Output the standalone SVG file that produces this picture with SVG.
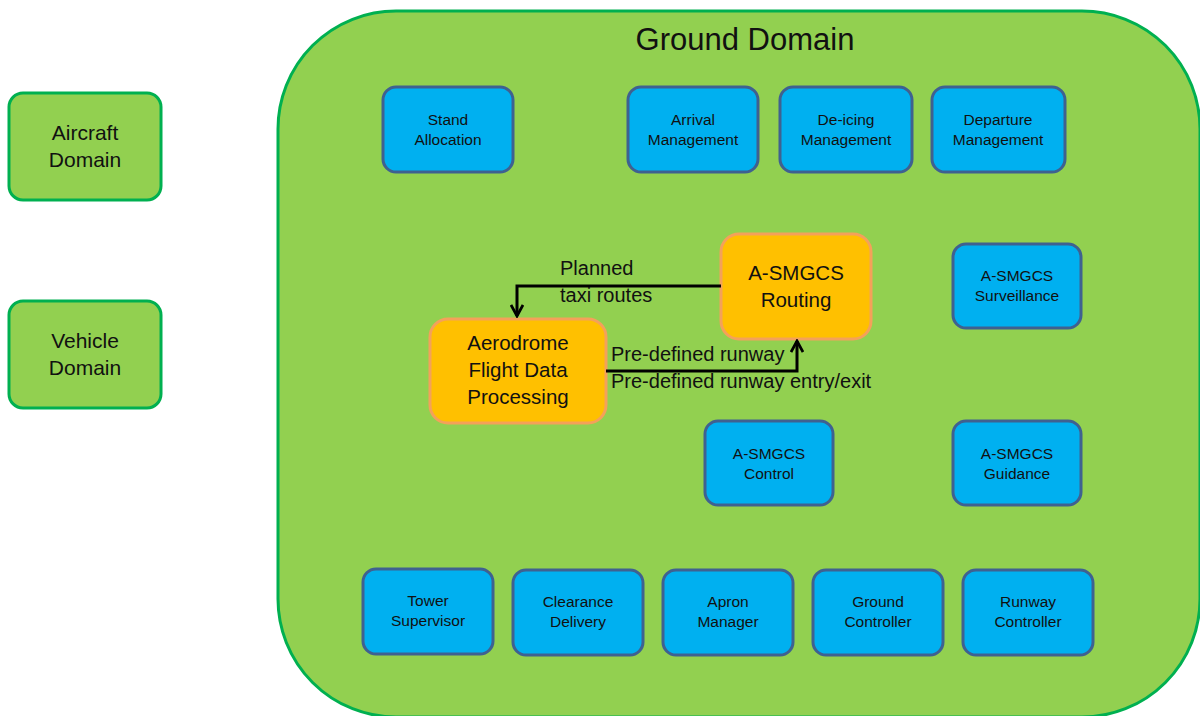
<svg xmlns="http://www.w3.org/2000/svg" width="1200" height="716" viewBox="0 0 1200 716">
<style>
.dom{fill:#92D050;stroke:#00B050;stroke-width:3}
.blue{fill:#00B0F0;stroke:#3F6190;stroke-width:3}
.orange{fill:#FFC000;stroke:#F4A15A;stroke-width:3}
text{font-family:"Liberation Sans",Arial,sans-serif;fill:#111;text-anchor:middle}
.b{font-size:15.5px}
.o{font-size:20.5px}
.d{font-size:21px}
.lbl{font-size:20px;text-anchor:start}
.conn{fill:none;stroke:#000;stroke-width:3}
</style>
<defs>
<marker id="ah" viewBox="0 0 14 14" refX="12" refY="7" markerWidth="14" markerHeight="14" markerUnits="userSpaceOnUse" orient="auto">
<path d="M1,1 L12,7 L1,13" fill="none" stroke="#000" stroke-width="2.8"/>
</marker>
</defs>
<rect width="1200" height="716" fill="#fff"/>
<g id="ground-domain">
<rect class="dom" x="278" y="11" width="922" height="706" rx="118" ry="118"/>
<text x="745" y="50" style="font-size:31px">Ground Domain</text>
</g>
<g id="aircraft-domain">
<rect class="dom" x="9" y="93" width="152" height="107" rx="14"/>
<text class="d" x="85" y="140">Aircraft</text>
<text class="d" x="85" y="167">Domain</text>
</g>
<g id="vehicle-domain">
<rect class="dom" x="9" y="301" width="152" height="107" rx="14"/>
<text class="d" x="85" y="348">Vehicle</text>
<text class="d" x="85" y="375">Domain</text>
</g>
<g id="stand-allocation">
<rect class="blue" x="383" y="87" width="130" height="85" rx="13"/>
<text class="b" x="448" y="125">Stand</text>
<text class="b" x="448" y="145">Allocation</text>
</g>
<g id="arrival-management">
<rect class="blue" x="628" y="87" width="130" height="85" rx="13"/>
<text class="b" x="693" y="125">Arrival</text>
<text class="b" x="693" y="145">Management</text>
</g>
<g id="deicing-management">
<rect class="blue" x="780" y="87" width="132" height="85" rx="13"/>
<text class="b" x="846" y="125">De-icing</text>
<text class="b" x="846" y="145">Management</text>
</g>
<g id="departure-management">
<rect class="blue" x="932" y="87" width="133" height="85" rx="13"/>
<text class="b" x="998" y="125">Departure</text>
<text class="b" x="998" y="145">Management</text>
</g>
<g id="asmgcs-surveillance">
<rect class="blue" x="953" y="244" width="128" height="84" rx="13"/>
<text class="b" x="1017" y="281">A-SMGCS</text>
<text class="b" x="1017" y="301">Surveillance</text>
</g>
<g id="asmgcs-control">
<rect class="blue" x="705" y="421" width="128" height="84" rx="13"/>
<text class="b" x="769" y="459">A-SMGCS</text>
<text class="b" x="769" y="479">Control</text>
</g>
<g id="asmgcs-guidance">
<rect class="blue" x="953" y="421" width="128" height="84" rx="13"/>
<text class="b" x="1017" y="459">A-SMGCS</text>
<text class="b" x="1017" y="479">Guidance</text>
</g>
<g id="tower-supervisor">
<rect class="blue" x="363" y="569" width="130" height="85" rx="13"/>
<text class="b" x="428" y="606">Tower</text>
<text class="b" x="428" y="626">Supervisor</text>
</g>
<g id="clearance-delivery">
<rect class="blue" x="513" y="570" width="130" height="85" rx="13"/>
<text class="b" x="578" y="607">Clearance</text>
<text class="b" x="578" y="627">Delivery</text>
</g>
<g id="apron-manager">
<rect class="blue" x="663" y="570" width="130" height="85" rx="13"/>
<text class="b" x="728" y="607">Apron</text>
<text class="b" x="728" y="627">Manager</text>
</g>
<g id="ground-controller">
<rect class="blue" x="813" y="570" width="130" height="85" rx="13"/>
<text class="b" x="878" y="607">Ground</text>
<text class="b" x="878" y="627">Controller</text>
</g>
<g id="runway-controller">
<rect class="blue" x="963" y="570" width="130" height="85" rx="13"/>
<text class="b" x="1028" y="607">Runway</text>
<text class="b" x="1028" y="627">Controller</text>
</g>
<g id="asmgcs-routing">
<rect class="orange" x="721" y="234" width="150" height="105" rx="18"/>
<text class="o" x="796" y="280">A-SMGCS</text>
<text class="o" x="796" y="307">Routing</text>
</g>
<g id="aerodrome-fdp">
<rect class="orange" x="430" y="319" width="176" height="104" rx="18"/>
<text class="o" x="518" y="350">Aerodrome</text>
<text class="o" x="518" y="377">Flight Data</text>
<text class="o" x="518" y="404">Processing</text>
</g>
<g id="connectors">
<path class="conn" d="M721,286 H517 V316" marker-end="url(#ah)"/>
<path class="conn" d="M606,371 H797 V341" marker-end="url(#ah)"/>
<text class="lbl" x="560" y="275">Planned</text>
<text class="lbl" x="560" y="302">taxi routes</text>
<text class="lbl" x="611" y="361">Pre-defined runway</text>
<text class="lbl" x="611" y="388">Pre-defined runway entry/exit</text>
</g>
</svg>
